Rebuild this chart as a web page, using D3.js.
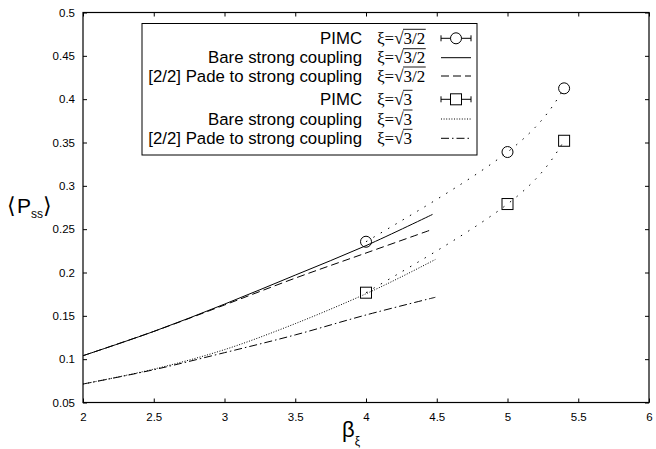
<!DOCTYPE html>
<html>
<head>
<meta charset="utf-8">
<script src="https://cdn.jsdelivr.net/npm/d3@7"></script>
<style>
  html, body { margin: 0; padding: 0; background: #fff; }
  svg { display: block; }
  text { font-family: "Liberation Sans", Arial, sans-serif; fill: #000; }
</style>
</head>
<body>
<svg id="chart" width="656" height="449"></svg>
<script>
// ---------- data ----------
const xTicks = [2, 2.5, 3, 3.5, 4, 4.5, 5, 5.5, 6];
const yTicks = [0.05, 0.1, 0.15, 0.2, 0.25, 0.3, 0.35, 0.4, 0.45, 0.5];
const xTickLabels = ["2", "2.5", "3", "3.5", "4", "4.5", "5", "5.5", "6"];
const yTickLabels = ["0.05", "0.1", "0.15", "0.2", "0.25", "0.3", "0.35", "0.4", "0.45", "0.5"];

// PIMC, xi = sqrt(3/2)
const pimcAX = [4, 5, 5.4];
const pimcAY = [0.2355, 0.339, 0.4125];
const pimcAErr = [0.0, 0.0, 0.0];
// PIMC, xi = sqrt(3)
const pimcBX = [4, 5, 5.4];
const pimcBY = [0.1767, 0.279, 0.352];
const pimcBErr = [0.0, 0.0, 0.0];

// Bare strong coupling, xi = sqrt(3/2)
const bareAX = [2, 2.5, 3, 3.5, 4, 4.47];
const bareAY = [0.104, 0.132, 0.1635, 0.197, 0.231, 0.267];
// [2/2] Pade, xi = sqrt(3/2)
const padeAX = [2, 2.5, 3, 3.5, 4, 4.47];
const padeAY = [0.104, 0.132, 0.1625, 0.1935, 0.2225, 0.2498];
// Bare strong coupling, xi = sqrt(3)
const bareBX = [2, 2.5, 3, 3.5, 4, 4.25, 4.49];
const bareBY = [0.0713, 0.0885, 0.111, 0.141, 0.1755, 0.195, 0.215];
// [2/2] Pade, xi = sqrt(3)
const padeBX = [2, 2.5, 3, 3.5, 4, 4.49];
const padeBY = [0.0713, 0.0878, 0.1075, 0.128, 0.151, 0.1714];

const legendLabels = ["PIMC", "Bare strong coupling", "[2/2] Pade to strong coupling",
                      "PIMC", "Bare strong coupling", "[2/2] Pade to strong coupling"];
const legendRadicands = ["3/2", "3/2", "3/2", "3", "3", "3"];

// ---------- layout ----------
const svg = d3.select("#chart");
const L = 83, R = 649, T = 12.5, B = 402.5;
const x = d3.scaleLinear().domain([2, 6]).range([L, R]);
const y = d3.scaleLinear().domain([0.05, 0.5]).range([B, T]);

const zip = (xs, ys) => xs.map((v, i) => [v, ys[i]]);
const line = d3.line().x(d => x(d[0])).y(d => y(d[1])).curve(d3.curveCatmullRom);
const spline = d3.line().x(d => x(d[0])).y(d => y(d[1])).curve(d3.curveNatural);

// axes
const fmtX = d => xTickLabels[xTicks.indexOf(d)];
const fmtY = d => yTickLabels[yTicks.indexOf(d)];
const axB = svg.append("g").attr("transform", `translate(0,${B})`)
  .call(d3.axisBottom(x).tickValues(xTicks).tickFormat(fmtX).tickSize(-4).tickSizeOuter(0).tickPadding(10));
const axL = svg.append("g").attr("transform", `translate(${L},0)`)
  .call(d3.axisLeft(y).tickValues(yTicks).tickFormat(fmtY).tickSize(-4).tickSizeOuter(0).tickPadding(8));
const axT = svg.append("g").attr("transform", `translate(0,${T})`)
  .call(d3.axisTop(x).tickValues(xTicks).tickFormat("").tickSize(-4).tickSizeOuter(0));
const axR = svg.append("g").attr("transform", `translate(${R},0)`)
  .call(d3.axisRight(y).tickValues(yTicks).tickFormat("").tickSize(-4).tickSizeOuter(0));
[axB, axL, axT, axR].forEach(g => {
  g.select(".domain").remove();
  g.selectAll("line").attr("stroke", "#000").attr("stroke-width", 1);
  g.selectAll("text").style("font-size", "11.5px").style("font-family", "'Liberation Sans', Arial, sans-serif").attr("fill", "#111");
});
svg.append("rect").attr("x", L).attr("y", T).attr("width", R - L).attr("height", B - T)
  .attr("fill", "none").attr("stroke", "#000").attr("stroke-width", 1.2);

// curves
const styles = {
  solid: null,
  dashed: "8,4",
  dotted: "1,1.6",
  dashdot: "8,3,1.5,3",
  sparse: "1.5,7"
};
function drawCurve(data, dash, gen) {
  svg.append("path").datum(data).attr("d", gen || line)
    .attr("fill", "none").attr("stroke", "#000").attr("stroke-width", 1)
    .attr("stroke-dasharray", dash);
}
drawCurve(zip(bareAX, bareAY), styles.solid);
drawCurve(zip(padeAX, padeAY), styles.dashed);
drawCurve(zip(bareBX, bareBY), styles.dotted);
drawCurve(zip(padeBX, padeBY), styles.dashdot);
drawCurve(zip(pimcAX, pimcAY), styles.sparse, spline);
drawCurve(zip(pimcBX, pimcBY), styles.sparse, spline);

// PIMC points
function drawPoints(xs, ys, es, shape) {
  const g = svg.append("g");
  xs.forEach((xv, i) => {
    if (es[i] > 0) {
      g.append("line").attr("x1", x(xv)).attr("x2", x(xv))
        .attr("y1", y(ys[i] - es[i])).attr("y2", y(ys[i] + es[i])).attr("stroke", "#000");
    }
    if (shape === "circle") {
      g.append("circle").attr("cx", x(xv)).attr("cy", y(ys[i])).attr("r", 5.5)
        .attr("fill", "none").attr("stroke", "#000").attr("stroke-width", 1);
    } else {
      g.append("rect").attr("x", x(xv) - 5.5).attr("y", y(ys[i]) - 5.5).attr("width", 11).attr("height", 11)
        .attr("fill", "none").attr("stroke", "#000").attr("stroke-width", 1);
    }
  });
}
drawPoints(pimcAX, pimcAY, pimcAErr, "circle");
drawPoints(pimcBX, pimcBY, pimcBErr, "square");

// legend
const lg = svg.append("g");
lg.append("rect").attr("x", 142).attr("y", 23.5).attr("width", 335).attr("height", 131.5)
  .attr("fill", "#fff").attr("stroke", "#000").attr("stroke-width", 1);
const rowY = [38.3, 57.7, 76, 99.3, 119, 138.3];
const sampleKinds = ["circle", "solid", "dashed", "square", "dotted", "dashdot"];
legendLabels.forEach((lab, i) => {
  const cy = rowY[i];
  lg.append("text").attr("x", 362).attr("y", cy + 5.5).attr("text-anchor", "end")
    .style("font-size", "16.8px").text(lab);
  const t = lg.append("text").attr("x", 377).attr("y", cy + 5.5)
    .style("font-family", "'Liberation Serif', 'DejaVu Serif', serif").style("font-size", "17px");
  t.append("tspan").text("ξ=");
  t.append("tspan").text("√");
  const rad = t.append("tspan").text(legendRadicands[i]);
  // overline above radicand
  const n = t.node();
  const fullLen = n.getComputedTextLength();
  const radLen = rad.node().getComputedTextLength();
  const x0 = 377 + fullLen - radLen - 0.5, x1 = 377 + fullLen + 0.5;
  lg.append("line").attr("x1", x0).attr("x2", x1).attr("y1", cy - 9).attr("y2", cy - 9)
    .attr("stroke", "#000").attr("stroke-width", 0.9);
  // sample
  const sx0 = 441, sx1 = 471, sxm = 456;
  const k = sampleKinds[i];
  if (k === "circle" || k === "square") {
    lg.append("line").attr("x1", sx0).attr("x2", sx1).attr("y1", cy).attr("y2", cy).attr("stroke", "#000");
    [sx0, sx1].forEach(cx => lg.append("line").attr("x1", cx).attr("x2", cx)
      .attr("y1", cy - 3).attr("y2", cy + 3).attr("stroke", "#000"));
    if (k === "circle") {
      lg.append("circle").attr("cx", sxm).attr("cy", cy).attr("r", 5.5)
        .attr("fill", "#fff").attr("stroke", "#000");
    } else {
      lg.append("rect").attr("x", sxm - 5.5).attr("y", cy - 5.5).attr("width", 11).attr("height", 11)
        .attr("fill", "#fff").attr("stroke", "#000");
    }
  } else {
    lg.append("line").attr("x1", sx0).attr("x2", sx1).attr("y1", cy).attr("y2", cy)
      .attr("stroke", "#000").attr("stroke-width", 1).attr("stroke-dasharray", styles[k]);
  }
});

// axis titles
const yl = svg.append("text").attr("x", 7).attr("y", 213);
yl.append("tspan").text("⟨").style("font-family", "'DejaVu Sans', sans-serif").style("font-size", "22px").style("font-weight", "200");
yl.append("tspan").text("P").style("font-size", "21px").attr("dx", 1);
yl.append("tspan").text("ss").style("font-size", "12px").attr("dy", 5);
yl.append("tspan").text("⟩").style("font-family", "'DejaVu Sans', sans-serif").style("font-size", "22px").attr("dy", -5);

const xl = svg.append("text").attr("x", 342).attr("y", 437);
xl.append("tspan").text("β").style("font-size", "22px");
xl.append("tspan").text("ξ").style("font-size", "12px").attr("dy", 8);
</script>
</body>
</html>
